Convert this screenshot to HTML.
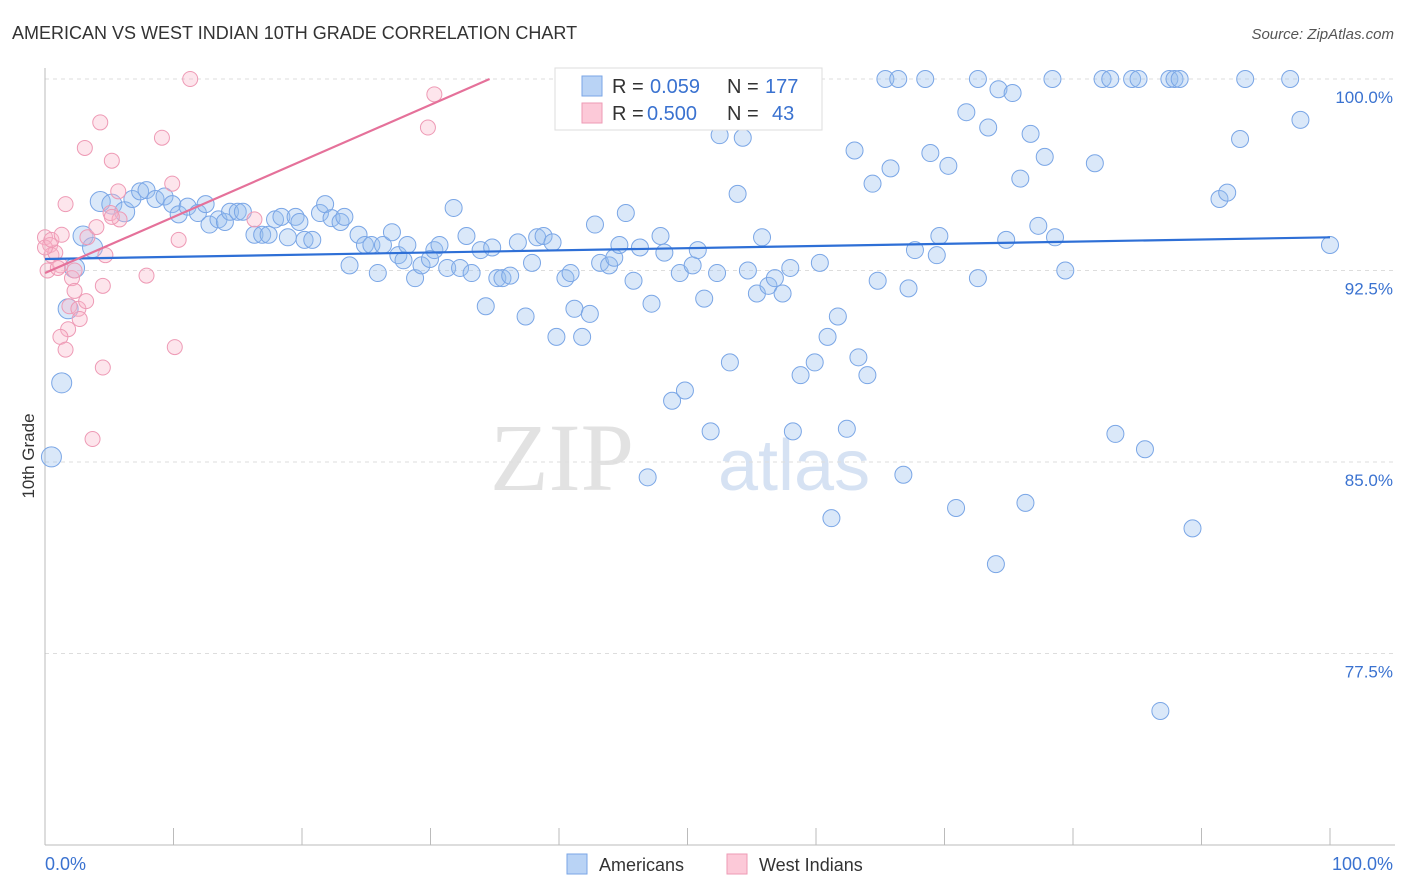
<!DOCTYPE html>
<html><head><meta charset="utf-8">
<style>
body{margin:0;background:#fff;font-family:"Liberation Sans",sans-serif;}
#wrap{position:relative;width:1406px;height:892px;overflow:hidden;}
</style></head>
<body>
<div id="wrap">
<svg id="svg" width="1406" height="892" xmlns="http://www.w3.org/2000/svg">
<text x="12" y="39" font-size="18" fill="#333">AMERICAN VS WEST INDIAN 10TH GRADE CORRELATION CHART</text>
<text x="1394" y="39" font-size="15" fill="#555" font-style="italic" text-anchor="end">Source: ZipAtlas.com</text>
<text x="634" y="490" font-size="96" fill="#e2e2e2" font-family="Liberation Serif" text-anchor="end">ZIP</text>
<text x="718" y="490" font-size="72" fill="#d6e2f3">atlas</text>
<g id="grid"></g>
<g id="axes"></g>
<g id="pts"></g>
<g id="trend"></g>
<text x="34" y="456" font-size="17" fill="#333" text-anchor="middle" transform="rotate(-90 34 456)">10th Grade</text>
<g>
<rect x="555" y="68" width="267" height="62" fill="#fff" stroke="#ddd"/>
<rect x="582" y="76" width="20" height="20" fill="#b9d3f5" stroke="#7aa6e6"/>
<rect x="582" y="103" width="20" height="20" fill="#fcc9d8" stroke="#ee9ab5"/>
<text x="612" y="93" font-size="20" fill="#333">R = </text><text x="650" y="93" font-size="20" fill="#3a72d0">0.059</text>
<text x="727" y="93" font-size="20" fill="#333">N = </text><text x="765" y="93" font-size="20" fill="#3a72d0">177</text>
<text x="612" y="120" font-size="20" fill="#333">R = </text><text x="647" y="120" font-size="20" fill="#3a72d0">0.500</text>
<text x="727" y="120" font-size="20" fill="#333">N = </text><text x="772" y="120" font-size="20" fill="#3a72d0">43</text>
</g>
<g>
<rect x="567" y="854" width="20" height="20" fill="#b9d3f5" stroke="#7aa6e6"/>
<text x="599" y="871" font-size="18" fill="#333">Americans</text>
<rect x="727" y="854" width="20" height="20" fill="#fcc9d8" stroke="#ee9ab5"/>
<text x="759" y="871" font-size="18" fill="#333">West Indians</text>
</g>
</svg>
</div>
<script>
const blueX=[0.5,1.3,1.8,2.3,2.96,3.7,4.3,5.2,6.2,6.8,7.4,7.9,8.6,9.3,9.9,10.4,11.1,11.9,12.5,12.8,13.5,14.0,14.4,15.0,15.4,16.3,16.9,17.4,17.9,18.4,18.9,19.5,19.8,20.2,20.8,21.4,21.8,22.3,23.0,23.3,23.7,24.4,24.9,25.4,25.9,26.3,27.0,27.5,27.9,28.2,28.8,29.3,29.96,30.3,30.7,31.3,31.8,32.3,32.8,33.2,33.9,34.3,34.8,35.2,35.6,36.2,36.8,37.4,37.9,38.3,38.8,39.5,39.8,40.5,40.9,41.2,41.8,42.4,42.8,43.2,43.9,44.3,44.7,45.2,45.8,46.3,46.9,47.2,47.9,48.2,48.8,49.4,49.8,50.4,50.8,51.3,51.8,52.3,52.5,53.3,53.9,54.3,54.7,55.4,55.8,56.3,56.8,57.4,58.0,58.2,58.8,59.2,59.9,60.3,60.9,61.2,61.7,62.4,63.0,63.3,64.0,64.4,64.8,65.4,65.8,66.4,66.8,67.2,67.7,68.5,68.9,69.4,69.6,70.3,70.9,71.7,72.6,72.6,73.4,74.0,74.2,74.8,75.3,75.9,76.3,76.7,77.3,77.8,78.4,78.6,79.4,81.7,82.3,82.9,83.3,84.6,85.1,85.6,86.8,87.5,87.9,88.3,89.3,91.4,92.0,93.0,93.4,96.9,97.7,100];
const blueY=[85.2,88.1,91.0,92.6,93.85,93.4,95.2,95.1,94.8,95.3,95.6,95.65,95.3,95.4,95.1,94.7,95.0,94.75,95.1,94.3,94.5,94.4,94.8,94.8,94.8,93.9,93.9,93.9,94.5,94.6,93.8,94.6,94.4,93.7,93.7,94.75,95.1,94.55,94.4,94.6,92.7,93.9,93.5,93.5,92.4,93.5,94.0,93.1,92.9,93.5,92.2,92.7,92.95,93.3,93.5,92.6,94.95,92.6,93.85,92.4,93.3,91.1,93.4,92.2,92.2,92.3,93.6,90.7,92.8,93.8,93.85,93.6,89.9,92.2,92.4,91.0,89.9,90.8,94.3,92.8,92.7,93.0,93.5,94.75,92.1,93.4,84.4,91.2,93.85,93.2,87.4,92.4,87.8,92.7,93.3,91.4,86.2,92.4,97.8,88.9,95.5,97.7,92.5,91.6,93.8,91.9,92.2,91.6,92.6,86.2,88.4,100,88.9,92.8,89.9,82.8,90.7,86.3,97.2,89.1,88.4,95.9,92.1,100,96.5,100,84.5,91.8,93.3,100,97.1,93.1,93.85,96.6,83.2,98.7,100,92.2,98.1,81.0,99.6,93.7,99.45,96.1,83.4,97.85,94.25,96.95,100,93.8,92.5,96.7,100,100,86.1,100,100,85.5,75.25,100,100,100,82.4,95.3,95.55,97.65,100,100,98.4,93.5];
const bigBlue=[0,1,2,3,4,5,6,7,8];
const pinkX=[0,0.4,0.5,0.2,0.8,1.2,1.6,1.9,2.1,2.3,1.8,1.2,1.6,2.6,2.7,3.1,3.2,3.3,4.0,4.3,4.5,4.5,4.7,5.1,5.2,5.7,5.8,7.9,9.1,9.9,10.1,10.4,11.3,3.7,16.3,29.8,30.3,0,0.5,1.0,2.3,1.3,5.2];
const pinkY=[93.8,93.5,93.1,92.5,93.2,92.7,95.1,91.1,92.2,92.5,90.2,89.9,89.4,91.0,90.6,97.3,91.3,93.8,94.2,98.3,91.9,88.7,93.1,94.75,96.8,95.6,94.5,92.3,97.7,95.9,89.5,93.7,100,85.9,94.5,98.1,99.4,93.4,93.7,92.6,91.7,93.9,94.6];
const blueTrend=[[0,92.95],[100,93.8]];
const pinkTrend=[[0,92.4],[34.6,100]];
const yTicks=[100,92.5,85,77.5];
const yTickLabels=["100.0%","92.5%","85.0%","77.5%"];
const xTickVals=[0,10,20,30,40,50,60,70,80,90,100];
const xLabels=["0.0%","100.0%"];

const X0=45,X1=1330,Y0=845,Y1=79;
const xs=v=>X0+(X1-X0)*v/100;
const ys=v=>Y1+(Y0-Y1)*(100-v)/30;
const NS="http://www.w3.org/2000/svg";
function mk(tag,attrs,parent){const e=document.createElementNS(NS,tag);for(const k in attrs)e.setAttribute(k,attrs[k]);parent.appendChild(e);return e;}
const grid=document.getElementById('grid'),axes=document.getElementById('axes'),pts=document.getElementById('pts'),trend=document.getElementById('trend');
yTicks.forEach((t,i)=>{
  const l=mk('line',{x1:X0,x2:1395,y1:ys(t),y2:ys(t),stroke:'#ddd','stroke-dasharray':'4,4'},grid);
  
  
  const tx=mk('text',{x:1393,y:ys(t)+24,'font-size':17,fill:'#3a72d0','text-anchor':'end'},grid);
  tx.textContent=yTickLabels[i];
  
  
});
const ax=mk('line',{x1:X0,x2:1395,y1:Y0,y2:Y0,stroke:'#bbb'},axes);


const ay=mk('line',{x1:X0,x2:X0,y1:68,y2:Y0,stroke:'#bbb'},axes);


xTickVals.forEach(t=>{
  const l=mk('line',{x1:xs(t),x2:xs(t),y1:828,y2:Y0,stroke:'#bbb'},axes);
  
  
});
const xl0=mk('text',{x:45,y:870,'font-size':18,fill:'#3a72d0'},axes);xl0.textContent=xLabels[0];


const xl1=mk('text',{x:1393,y:870,'font-size':18,fill:'#3a72d0','text-anchor':'end'},axes);xl1.textContent=xLabels[1];


blueX.forEach((x,i)=>{
  const c=mk('circle',{cx:xs(x),cy:ys(blueY[i]),r:bigBlue.includes(i)?10:8.5,fill:'rgba(150,188,238,0.35)',stroke:'#7aa6e6','stroke-width':1},pts);
  
  
});
pinkX.forEach((x,i)=>{
  const c=mk('circle',{cx:xs(x),cy:ys(pinkY[i]),r:7.5,fill:'rgba(248,180,200,0.35)',stroke:'#ee9ab5','stroke-width':1},pts);
  
  
});
const bt=mk('line',{x1:xs(blueTrend[0][0]),y1:ys(blueTrend[0][1]),x2:xs(blueTrend[1][0]),y2:ys(blueTrend[1][1]),stroke:'#2e6fd6','stroke-width':2.2},trend);


const pt=mk('line',{x1:xs(pinkTrend[0][0]),y1:ys(pinkTrend[0][1]),x2:xs(pinkTrend[1][0]),y2:ys(pinkTrend[1][1]),stroke:'#e5719a','stroke-width':2.2},trend);


</script>
</body></html>
